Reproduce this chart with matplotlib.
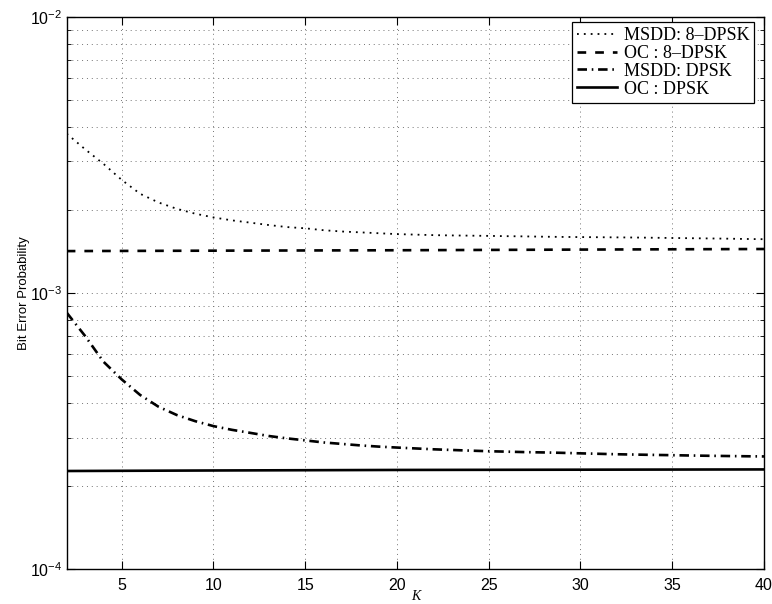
import numpy as np
import matplotlib
matplotlib.use("Agg")
import matplotlib.pyplot as plt
from matplotlib.ticker import LogLocator, FixedLocator, NullFormatter

plt.rcParams['font.family'] = ['Liberation Sans', 'DejaVu Sans']
plt.rcParams['mathtext.fontset'] = 'custom'
plt.rcParams['mathtext.rm'] = 'Liberation Sans'
plt.rcParams['mathtext.it'] = 'Liberation Sans:italic'

# number of symbols in the observation window
K = np.arange(2, 41)

# multiple-symbol differential detection
msdd_8dpsk = [3.78e-3, 3.32e-3, 2.94e-3, 2.57e-3, 2.29e-3, 2.13e-3, 2.02e-3, 1.94e-3,
              1.88e-3, 1.835e-3, 1.80e-3, 1.765e-3, 1.735e-3, 1.717e-3, 1.69e-3,
              1.672e-3, 1.66e-3, 1.648e-3, 1.636e-3, 1.629e-3, 1.622e-3, 1.618e-3,
              1.615e-3, 1.612e-3, 1.608e-3, 1.605e-3, 1.601e-3, 1.598e-3, 1.596e-3,
              1.594e-3, 1.592e-3, 1.59e-3, 1.587e-3, 1.584e-3, 1.581e-3, 1.578e-3,
              1.575e-3, 1.571e-3, 1.568e-3]
msdd_dpsk = [8.5e-4, 7.0e-4, 5.65e-4, 4.87e-4, 4.28e-4, 3.88e-4, 3.62e-4, 3.44e-4,
             3.30e-4, 3.20e-4, 3.12e-4, 3.04e-4, 2.98e-4, 2.93e-4, 2.88e-4,
             2.845e-4, 2.81e-4, 2.782e-4, 2.76e-4, 2.74e-4, 2.72e-4, 2.705e-4,
             2.69e-4, 2.677e-4, 2.667e-4, 2.657e-4, 2.65e-4, 2.641e-4, 2.63e-4,
             2.62e-4, 2.61e-4, 2.603e-4, 2.596e-4, 2.59e-4, 2.583e-4, 2.577e-4,
             2.572e-4, 2.567e-4, 2.563e-4]

# optimum (coherent) reference curves
K_oc = [2, 10, 20, 30, 40]
oc_8dpsk = [1.42e-3, 1.425e-3, 1.43e-3, 1.438e-3, 1.445e-3]
oc_dpsk = [2.27e-4, 2.28e-4, 2.29e-4, 2.295e-4, 2.30e-4]

fig = plt.figure(figsize=(7.72, 6.04), dpi=100)
ax = fig.add_axes([0.0864, 0.0574, 0.9032, 0.9145])

ax.semilogy(K, msdd_8dpsk, color='k', lw=1.3, linestyle=(0, (1, 2.8)), label='MSDD: 8–DPSK')
ax.semilogy(K_oc, oc_8dpsk, color='k', lw=1.9, linestyle=(0, (3.3, 3.4)), label='OC : 8–DPSK')
ax.semilogy(K, msdd_dpsk, color='k', lw=1.9, linestyle=(0, (3.6, 1.8, 0.6, 1.8)), label='MSDD: DPSK')
ax.semilogy(K_oc, oc_dpsk, color='k', lw=1.9, linestyle='-', label='OC : DPSK')

ax.set_xlim(2, 40)
ax.set_ylim(1e-4, 1e-2)
ax.xaxis.set_major_locator(FixedLocator([5, 10, 15, 20, 25, 30, 35, 40]))
ax.yaxis.set_major_locator(LogLocator(base=10, numticks=5))
ax.yaxis.set_minor_locator(LogLocator(base=10, subs=np.arange(2, 10), numticks=20))
ax.yaxis.set_minor_formatter(NullFormatter())

ax.tick_params(which='both', direction='in', top=True, right=True, labelsize=11.5)
ax.tick_params(axis='x', pad=6)
ax.tick_params(which='major', length=6, width=0.8)
ax.tick_params(which='minor', length=3, width=0.6)
for s in ax.spines.values():
    s.set_linewidth(1.0)

ax.grid(True, which='major', axis='x', color='0.45', linestyle=(0, (1, 4)), lw=0.7)
ax.grid(True, which='both', axis='y', color='0.45', linestyle=(0, (1, 4)), lw=0.7)

ax.set_ylabel('Bit Error Probability', fontsize=9.5, labelpad=0)
ax.set_xlabel('K', fontsize=10, fontstyle='italic', family='Liberation Serif', labelpad=-2)

leg = ax.legend(loc='upper right', bbox_to_anchor=(0.986, 0.991), borderaxespad=0,
                prop={'family': 'Liberation Serif', 'size': 13}, handlelength=2.2,
                handletextpad=0.35, labelspacing=0.05, borderpad=0.28, fancybox=False,
                framealpha=1, edgecolor='k')
leg.get_frame().set_linewidth(0.9)

fig.savefig('out.png', dpi=100)
